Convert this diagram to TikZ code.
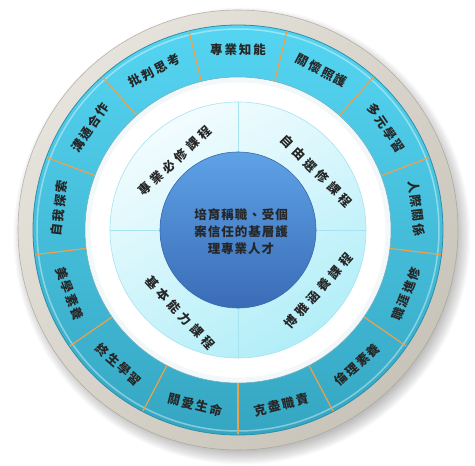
\documentclass[tikz,border=0pt]{standalone}
\usepackage{fontspec}
\newfontfamily\cjkO[LetterSpace=15]{Noto Sans CJK TC}
\newfontfamily\cjkI[LetterSpace=32]{Noto Sans CJK TC}
\newfontfamily\cjkC[LetterSpace=8]{Noto Sans CJK TC}
\usetikzlibrary{calc}
\definecolor{grayL}{HTML}{E6E3DC}
\definecolor{grayD}{HTML}{C9C4B9}
\definecolor{grayEdge}{HTML}{A39D91}
\definecolor{ringTop}{HTML}{55D5F2}
\definecolor{ringBot}{HTML}{35A6C2}
\definecolor{ringEdge}{HTML}{2C8EA8}
\definecolor{divOrange}{HTML}{F0A048}
\definecolor{lightTop}{HTML}{F2FCFE}
\definecolor{lightBot}{HTML}{B2EEF8}
\definecolor{lightEdge}{HTML}{A6E3F0}
\definecolor{darkTop}{HTML}{5EA2E6}
\definecolor{darkBot}{HTML}{3A6CB6}
\definecolor{darkEdge}{HTML}{3868AE}
\tikzset{
  outtxt/.style={font=\cjkO\bfseries\fontsize{12.5}{13}\selectfont, text=black!85, inner sep=0pt},
  intxt/.style={font=\cjkI\bfseries\fontsize{12.5}{13}\selectfont, text=black!85, inner sep=0pt},
  ctrtxt/.style={font=\cjkC\bfseries\fontsize{12.5}{17}\selectfont, text=black!85, inner sep=0pt, align=center}
}
\begin{document}
\begin{tikzpicture}[x=1pt,y=1pt]
\useasboundingbox (0,0) rectangle (475,466);
\coordinate (C) at (238,236);
% soft drop shadow
\foreach \i in {1,...,12}{
  \fill[black,opacity=0.025] ($(C)+(4,-6)$) circle ({214+\i*1.2});
}
% gray outer ring
\shade[top color=grayL, bottom color=grayD, shading angle=45] (C) circle (220);
\draw[grayEdge, line width=0.6, opacity=0.7] (C) circle (220);
% blue ring
\shade[top color=ringTop, bottom color=ringBot] (C) circle (205);
\draw[white, opacity=0.4, line width=1.5] (C) circle (201);
\draw[ringEdge, line width=0.8] (C) circle (205);
\fill[white] (C) circle (153);
\foreach \i in {1,...,5}{
  \draw[ringEdge, opacity=0.05, line width=1pt] (C) circle ({153-\i});
}
\draw[ringEdge!70, line width=0.6] (C) circle (153);
% orange dividers
\foreach \k in {0,...,12}{
  \pgfmathsetmacro\a{-90+\k*360/13}
  \draw[divOrange, line width=1.2pt] ($(C)+(\a:153.5)$) -- ($(C)+(\a:204.5)$);
}
% light inner disc
\shade[top color=lightTop, bottom color=lightBot, shading angle=30] (C) circle (128);
\draw[lightEdge, line width=0.6] (C) circle (128);
\foreach \a in {0,90,180,270}{
  \draw[lightEdge, line width=0.6] ($(C)+(\a:78)$) -- ($(C)+(\a:128)$);
}
% dark centre disc
\shade[top color=darkTop, bottom color=darkBot] (C) circle (78);
\draw[darkEdge, line width=0.6] (C) circle (78);
% outer ring texts
\foreach \k/\t in {0/專業知能,1/關懷照護,2/多元學習,3/人際關係,4/職涯進修,5/倫理素養,6/克盡職責,7/關愛生命,8/終生學習,9/美學素養,10/自我探索,11/溝通合作,12/批判思考}{
  \pgfmathsetmacro\ang{mod(90-\k*360/13+540,360)-180}
  \pgfmathsetmacro\rot{\ang>0 ? \ang-90 : \ang+90}
  \node[outtxt, rotate=\rot] (o\k) at ($(C)+(\ang:180)$) {\t};
}
% quadrant texts
\node[intxt, rotate=43] (q1) at (175,305) {專業必修課程};
\node[intxt, rotate=-45] (q2) at (316.5,295) {自由選修課程};
\node[intxt, rotate=-47] (q3) at (180,153) {基本能力課程};
\node[intxt, rotate=49] (q4) at (318.5,175) {博雅涵養課程};
% centre text
\node[ctrtxt] (core) at (241,234) {培育稱職、受個\\案信任的基層護\\理專業人才};
\end{tikzpicture}
\end{document}
